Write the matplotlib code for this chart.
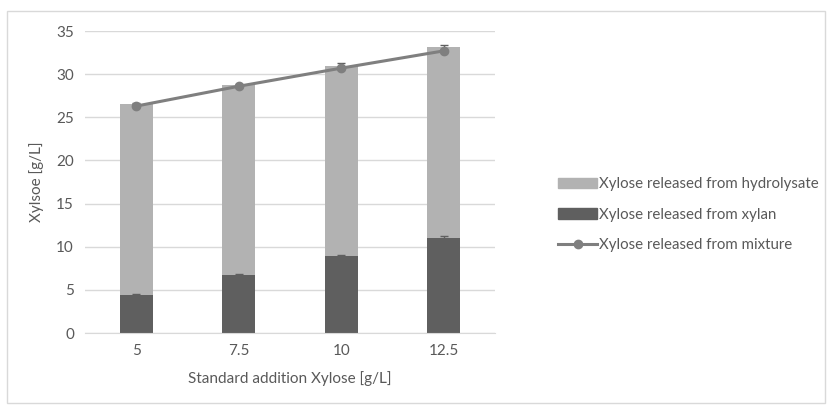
import numpy as np
import matplotlib.pyplot as plt
from matplotlib.patches import Rectangle
from matplotlib.lines import Line2D

plt.rcParams['font.family'] = ['Lato', 'DejaVu Sans']

# --- DATA ---
categories = ['5', '7.5', '10', '12.5']
xylan = [4.4, 6.7, 8.9, 11.05]          # Xylose released from xylan
total_bar = [26.5, 28.7, 31.0, 33.1]     # top of stacked bar
hydrolysate = [t - x for t, x in zip(total_bar, xylan)]
mixture = [26.3, 28.6, 30.7, 32.7]
xylan_err = [0.1, 0.1, 0.1, 0.2]
total_err = [0.1, 0.1, 0.3, 0.3]

c_light = '#b2b2b2'
c_dark = '#5f5f5f'
c_line = '#7f7f7f'
c_text = '#595959'

fig = plt.figure(figsize=(8.28, 4.08), dpi=100)
fig.patches.append(Rectangle((0.008, 0.012), 0.988, 0.962, transform=fig.transFigure,
                             fill=False, edgecolor='#d9d9d9', linewidth=1))
ax = fig.add_axes([0.1027, 0.1838, 0.4953, 0.7402])

x = np.arange(len(categories))
w = 0.32
ax.bar(x, xylan, w, color=c_dark, zorder=2)
ax.bar(x, hydrolysate, w, bottom=xylan, color=c_light, zorder=2)
ax.errorbar(x, xylan, yerr=xylan_err, fmt='none', ecolor=c_dark, capsize=3, elinewidth=1, zorder=3)
ax.errorbar(x, total_bar, yerr=total_err, fmt='none', ecolor=c_dark, capsize=3, elinewidth=1, zorder=3)
ax.plot(x, mixture, color=c_line, linewidth=2.2, marker='o', markersize=6, zorder=4)

ax.set_xlim(-0.5, len(categories) - 0.5)
ax.set_ylim(0, 35)
ax.set_yticks(np.arange(0, 36, 5))
ax.set_xticks(x)
ax.set_xticklabels(categories)
ax.yaxis.grid(True, color='#d9d9d9', linewidth=1, zorder=0)
ax.set_axisbelow(True)
for s in ['top', 'right', 'left']:
    ax.spines[s].set_visible(False)
ax.spines['bottom'].set_color('#d9d9d9')
ax.tick_params(length=0, labelsize=11, labelcolor=c_text, pad=8)
ax.set_ylabel('Xylsoe [g/L]', fontsize=11, color=c_text, labelpad=9)
ax.set_xlabel('Standard addition Xylose [g/L]', fontsize=11, color=c_text, labelpad=9)

handles = [Rectangle((0, 0), 1, 1, color=c_light),
           Rectangle((0, 0), 1, 1, color=c_dark),
           Line2D([], [], color=c_line, linewidth=2.2, marker='o', markersize=6)]
labels = ['Xylose released from hydrolysate', 'Xylose released from xylan',
          'Xylose released from mixture']
fig.legend(handles, labels, loc='center left', bbox_to_anchor=(0.658, 0.474), frameon=False,
           fontsize=10.8, labelcolor=c_text, handlelength=2.6, handletextpad=0.1,
           labelspacing=1.1)

fig.savefig('out.png', dpi=100)
